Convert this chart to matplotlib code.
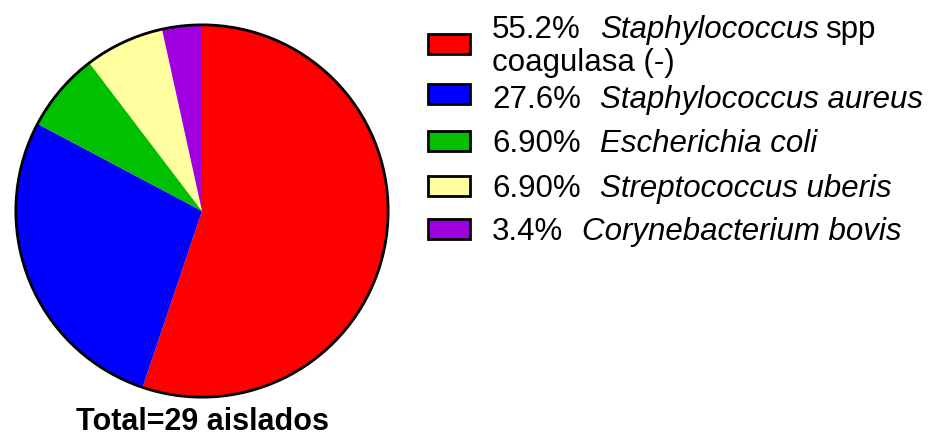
import matplotlib.pyplot as plt
from matplotlib.patches import Rectangle, Circle

plt.rcParams['font.family'] = ['Liberation Sans', 'DejaVu Sans']

# data
counts = [16, 8, 2, 2, 1]
percents = ['55.2%', '27.6%', '6.90%', '6.90%', '3.4%']
names = ['Staphylococcus', 'Staphylococcus aureus', 'Escherichia coli',
         'Streptococcus uberis', 'Corynebacterium bovis']
colors = ['#FF0000', '#0000FF', '#00C000', '#FFFFA0', '#A000E0']
total_label = 'Total=29 aislados'

W, H = 935, 439
fig = plt.figure(figsize=(W / 100, H / 100), dpi=100)

# pie, center (202, 212), radius 188 px
cx, cy, r = 202, 212, 188
ax = fig.add_axes([(cx - r) / W, (H - cy - r) / H, 2 * r / W, 2 * r / H])
ax.pie(counts, colors=colors, startangle=90, counterclock=False,
       radius=1, wedgeprops=dict(linewidth=0))
ax.add_patch(Circle((0, 0), 1, fill=False, edgecolor='black', linewidth=2))
ax.set_xlim(-1.01, 1.01)
ax.set_ylim(-1.01, 1.01)
ax.set_aspect('equal')
ax.axis('off')

fig.text(cx / W, 1 - 422 / H, total_label, ha='center', va='center',
         fontsize=22, fontweight='bold')

# legend drawn by hand
fs = 22.5
box_y = [45, 95, 142, 187, 230]
base_y = [38, 108, 152, 197, 240]
renderer = fig.canvas.get_renderer()
for i in range(len(counts)):
    fig.patches.append(Rectangle((428 / W, 1 - (box_y[i] + 10) / H), 42 / W, 20 / H,
                                 transform=fig.transFigure, facecolor=colors[i],
                                 edgecolor='black', linewidth=2))
    t = fig.text(492 / W, 1 - base_y[i] / H, percents[i], fontsize=fs, va='baseline')
    bb = t.get_window_extent(renderer)
    xi = bb.x1 + 19
    t2 = fig.text(xi / W, 1 - base_y[i] / H, names[i], fontsize=fs,
                  style='italic', va='baseline')
    if i == 0:
        bb2 = t2.get_window_extent(renderer)
        fig.text((bb2.x1 + 7) / W, 1 - base_y[i] / H, 'spp', fontsize=fs, va='baseline')
        fig.text(492 / W, 1 - 71 / H, 'coagulasa (-)', fontsize=fs, va='baseline')

fig.savefig('out.png', dpi=100)
